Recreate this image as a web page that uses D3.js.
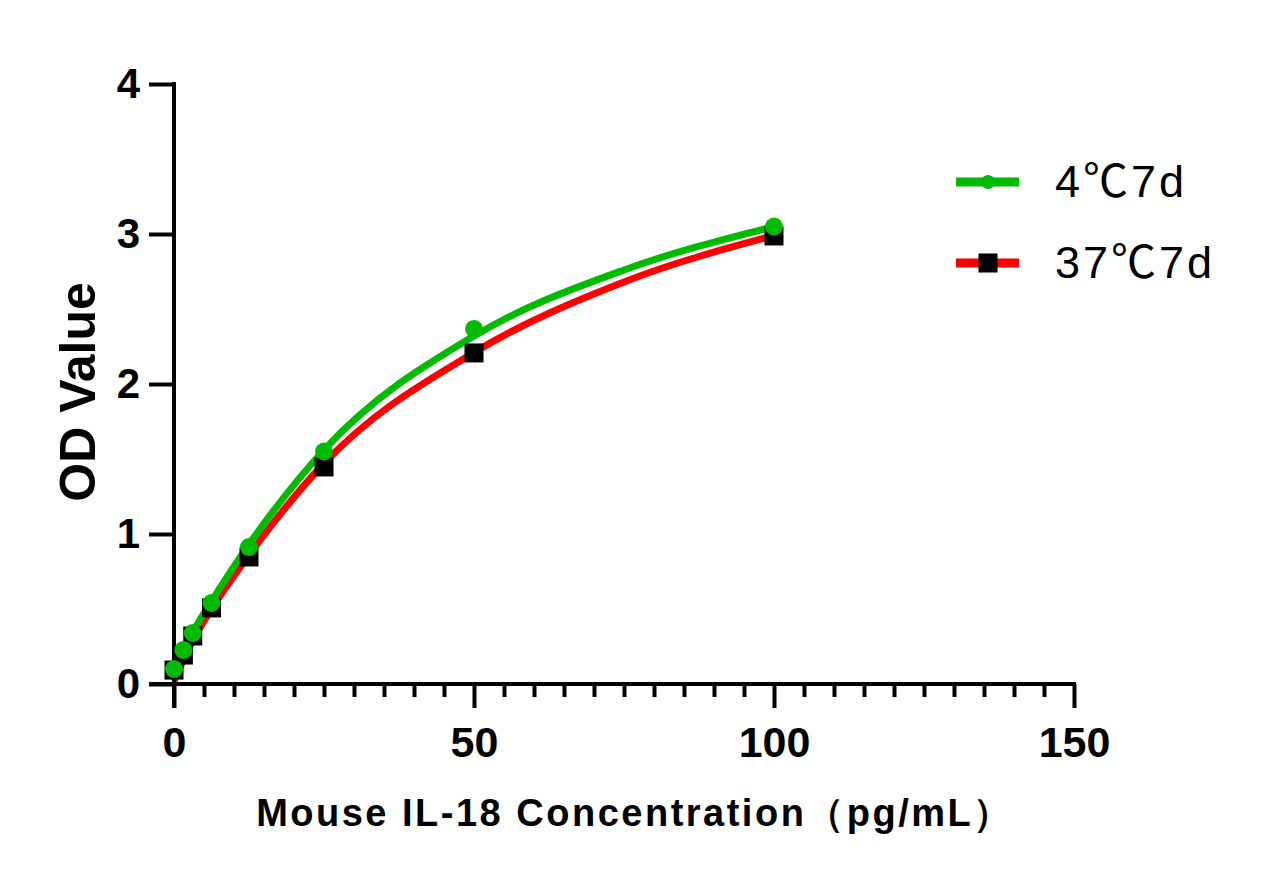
<!DOCTYPE html>
<html><head><meta charset="utf-8">
<script src="https://cdn.jsdelivr.net/npm/d3@7"></script>
<style>body{margin:0;background:#fff}svg{display:block}</style>
</head><body>
<script>
// Data
const concentrations = [0, 1.5625, 3.125, 6.25, 12.5, 25, 50, 100];
const od4C = [0.10, 0.227, 0.34, 0.54, 0.913, 1.55, 2.367, 3.05];
const od37C = [0.093, 0.193, 0.32, 0.507, 0.847, 1.447, 2.207, 2.987];
// fitted curves
const fitX = [0, 1.5625, 3.125, 6.25, 12.5, 25, 50, 75, 100];
const fit4C = [0.04, 0.20, 0.34, 0.55, 0.93, 1.56, 2.32, 2.76, 3.05];
const fit37C = [0.02, 0.16, 0.29, 0.50, 0.86, 1.47, 2.21, 2.68, 2.99];
const seriesNames = [["4", "\u2103", "7d"], ["37", "\u2103", "7d"]];
const xMajorTicks = [0, 50, 100, 150];
const yTicks = [0, 1, 2, 3, 4];

const W = 1263, H = 879;
const svg = d3.select("body").append("svg").attr("width", W).attr("height", H);
const x = d3.scaleLinear().domain([0, 150]).range([174, 1074]);
const y = d3.scaleLinear().domain([0, 4]).range([684, 84]);
const FONT = "'Liberation Sans', Arial, sans-serif";

const line = d3.line().x(d => x(d[0])).y(d => y(d[1])).curve(d3.curveMonotoneX);
svg.append("path").datum(fitX.map((c, i) => [c, fit37C[i]]))
  .attr("d", line).attr("fill", "none").attr("stroke", "#ff0000").attr("stroke-width", 7);
svg.append("path").datum(fitX.map((c, i) => [c, fit4C[i]]))
  .attr("d", line).attr("fill", "none").attr("stroke", "#00bb00").attr("stroke-width", 7);

// axes
const gx = svg.append("g").attr("transform", `translate(0,${y(0)})`);
gx.call(d3.axisBottom(x).tickValues(d3.range(0, 151, 5).filter(v => v % 50 !== 0)).tickSize(13).tickFormat(""));
gx.call(g => g.select(".domain").remove());
const gx2 = svg.append("g").attr("transform", `translate(0,${y(0)})`);
gx2.call(d3.axisBottom(x).tickValues(xMajorTicks).tickSize(24).tickPadding(18).tickFormat(d3.format("d")));
gx2.select(".domain").remove();
[gx, gx2].forEach(g => {
  g.selectAll(".tick line").attr("stroke", "#000").attr("stroke-width", 4);
});
gx2.selectAll(".tick text").attr("font-family", FONT).attr("font-weight", "bold")
  .attr("font-size", 43).attr("fill", "#000");

const gy = svg.append("g").attr("transform", `translate(${x(0)},0)`);
gy.call(d3.axisLeft(y).tickValues(yTicks).tickSize(25).tickPadding(9).tickFormat(d3.format("d")));
gy.select(".domain").remove();
gy.selectAll(".tick line").attr("stroke", "#000").attr("stroke-width", 4);
gy.selectAll(".tick text").attr("font-family", FONT).attr("font-weight", "bold")
  .attr("font-size", 42).attr("fill", "#000");

// axis lines
svg.append("line").attr("x1", x(0) - 25).attr("x2", x(150) + 2).attr("y1", y(0)).attr("y2", y(0))
  .attr("stroke", "#000").attr("stroke-width", 4);
svg.append("line").attr("x1", x(0)).attr("x2", x(0)).attr("y1", y(4) - 2).attr("y2", y(0) + 24)
  .attr("stroke", "#000").attr("stroke-width", 4);

// markers
svg.selectAll("rect.m37").data(concentrations).enter().append("rect")
  .attr("x", (d) => x(d) - 9.5).attr("y", (d, i) => y(od37C[i]) - 9.5)
  .attr("width", 19).attr("height", 19).attr("fill", "#000");
svg.selectAll("circle.m4").data(concentrations).enter().append("circle")
  .attr("cx", d => x(d)).attr("cy", (d, i) => y(od4C[i])).attr("r", 9).attr("fill", "#00bb00");

// axis titles
svg.append("text").attr("x", (x(0) + x(150)) / 2 + 11).attr("y", 826).attr("text-anchor", "middle")
  .attr("font-family", FONT).attr("font-weight", "bold").attr("font-size", 38)
  .attr("letter-spacing", 2.5).attr("fill", "#000")
  .text("Mouse IL-18 Concentration\uFF08pg/mL\uFF09");
svg.append("text").attr("transform", `translate(95,${(y(0) + y(4)) / 2 + 8}) rotate(-90)`)
  .attr("text-anchor", "middle").attr("font-family", FONT).attr("font-weight", "bold")
  .attr("font-size", 50).attr("fill", "#000").text("OD Value");

// legend
const leg = svg.append("g");
const legY = [182, 263];
const colors = ["#00bb00", "#ff0000"];
seriesNames.forEach((parts, i) => {
  leg.append("line").attr("x1", 956).attr("x2", 1019).attr("y1", legY[i]).attr("y2", legY[i])
    .attr("stroke", colors[i]).attr("stroke-width", 9);
  if (i === 0) leg.append("circle").attr("cx", 988).attr("cy", legY[i]).attr("r", 7).attr("fill", "#00bb00");
  else leg.append("rect").attr("x", 978.5).attr("y", legY[i] - 9.5).attr("width", 19).attr("height", 19).attr("fill", "#000");
  const t = leg.append("text").attr("x", 1055).attr("y", legY[i] + 15).attr("font-family", FONT)
    .attr("font-size", 45).attr("letter-spacing", 3).attr("fill", "#000");
  t.append("tspan").text(parts[0]);
  t.append("tspan").attr("font-family", "'Noto Sans CJK SC', sans-serif").text(parts[1]);
  t.append("tspan").text(parts[2]);
});
</script>
</body></html>
